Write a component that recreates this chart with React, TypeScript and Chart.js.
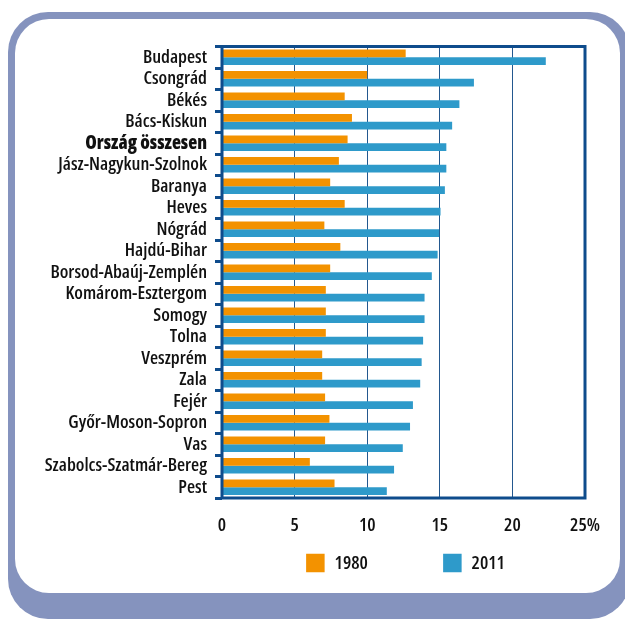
import React, { useEffect, useRef } from "react";
import { Chart, registerables } from "chart.js";

Chart.register(...registerables);

const categories = [
  "Budapest",
  "Csongrád",
  "Békés",
  "Bács-Kiskun",
  "Ország összesen",
  "Jász-Nagykun-Szolnok",
  "Baranya",
  "Heves",
  "Nógrád",
  "Hajdú-Bihar",
  "Borsod-Abaúj-Zemplén",
  "Komárom-Esztergom",
  "Somogy",
  "Tolna",
  "Veszprém",
  "Zala",
  "Fejér",
  "Győr-Moson-Sopron",
  "Vas",
  "Szabolcs-Szatmár-Bereg",
  "Pest",
];

const values1980 = [
  12.65, 10.0, 8.45, 8.95, 8.65, 8.05, 7.45, 8.45, 7.05, 8.15, 7.45, 7.15, 7.15,
  7.15, 6.9, 6.9, 7.1, 7.4, 7.1, 6.05, 7.75,
];

const values2011 = [
  22.3, 17.35, 16.35, 15.85, 15.45, 15.45, 15.35, 15.05, 14.95, 14.85, 14.45,
  13.95, 13.95, 13.85, 13.75, 13.65, 13.15, 12.95, 12.45, 11.85, 11.35,
];

const seriesNames = ["1980", "2011"];
const seriesColors = ["#F39200", "#2E9ACA"];
const xTickValues = [0, 5, 10, 15, 20, 25];
const xTickLabels = ["0", "5", "10", "15", "20", "25%"];
const boldCategory = "Ország összesen";

const FONT = '"Open Sans", "Roboto", sans-serif';
const FONT_SIZE = 18.6;
const FRAME = "#0E4C8C";
const TEXT = "#111111";

const framePlugin = {
  id: "frameBox",
  afterDatasetsDraw(chart: any) {
    const { ctx, chartArea } = chart;
    const { left, top, right, bottom } = chartArea;
    ctx.save();
    ctx.strokeStyle = FRAME;
    ctx.lineWidth = 3;
    ctx.strokeRect(left, top, right - left, bottom - top);
    ctx.restore();
  },
};

const legendPlugin = {
  id: "spacedLegend",
  afterDraw(chart: any) {
    const { ctx, chartArea } = chart;
    const datasets = chart.data.datasets;
    const box = 18.5;
    const gap = 10;
    const step = 137;
    ctx.save();
    ctx.font = `normal condensed 550 ${FONT_SIZE}px ${FONT}`;
    ctx.textBaseline = "middle";
    ctx.textAlign = "left";
    const lastW =
      box + gap + ctx.measureText(datasets[datasets.length - 1].label).width;
    const total = step * (datasets.length - 1) + lastW;
    const cx = (chartArea.left + chartArea.right) / 2 + 2;
    const cy = chartArea.bottom + 65;
    let x = cx - total / 2;
    datasets.forEach((ds: any) => {
      ctx.fillStyle = ds.backgroundColor;
      ctx.fillRect(x, cy - box / 2, box, box);
      ctx.fillStyle = TEXT;
      ctx.fillText(ds.label, x + box + gap, cy + 1);
      x += step;
    });
    ctx.restore();
  },
};

export default function App() {
  const canvasRef = useRef<HTMLCanvasElement | null>(null);

  useEffect(() => {
    if (!canvasRef.current) return;
    const chart = new Chart(canvasRef.current, {
      type: "bar",
      data: {
        labels: categories,
        datasets: [
          {
            label: seriesNames[0],
            data: values1980,
            backgroundColor: seriesColors[0],
            borderWidth: 0,
          },
          {
            label: seriesNames[1],
            data: values2011,
            backgroundColor: seriesColors[1],
            borderWidth: 0,
          },
        ],
      },
      options: {
        indexAxis: "y",
        animation: false,
        responsive: true,
        maintainAspectRatio: false,
        datasets: {
          bar: {
            categoryPercentage: 0.71,
            barPercentage: 1.0,
          },
        },
        layout: {
          padding: { left: 0, top: 46.5, right: 40, bottom: 0 },
        },
        plugins: {
          legend: { display: false },
          tooltip: { enabled: false },
        },
        scales: {
          x: {
            type: "linear",
            min: 0,
            max: 25,
            afterBuildTicks: (scale: any) => {
              scale.ticks = xTickValues.map((v) => ({ value: v }));
            },
            afterFit: (scale: any) => {
              scale.height = 121;
            },
            ticks: {
              padding: 17,
              color: TEXT,
              autoSkip: false,
              maxRotation: 0,
              font: { family: FONT, size: FONT_SIZE, weight: "condensed 550" },
              callback: (value: any) => {
                const i = xTickValues.indexOf(Number(value));
                return i >= 0 ? xTickLabels[i] : "";
              },
            },
            grid: {
              color: "#23588F",
              lineWidth: 1,
              drawTicks: false,
            },
            border: { display: false },
          },
          y: {
            type: "category",
            afterFit: (scale: any) => {
              scale.width = 222;
            },
            ticks: {
              padding: 8,
              color: TEXT,
              autoSkip: false,
              font: (c: any) => ({
                family: FONT,
                size: FONT_SIZE,
                weight:
                  categories[c.index] === boldCategory
                    ? "condensed 800"
                    : "condensed 550",
              }),
            },
            grid: {
              offset: true,
              drawOnChartArea: false,
              drawTicks: true,
              tickLength: 7,
              color: FRAME,
              lineWidth: 3,
            },
            border: { display: false },
          },
        },
      },
      plugins: [framePlugin, legendPlugin],
    });
    return () => chart.destroy();
  }, []);

  return (
    <div
      style={{
        position: "fixed",
        left: 0,
        top: 0,
        width: 625,
        height: 619,
        overflow: "hidden",
        background: "#ffffff",
      }}
    >
      <div
        style={{
          position: "absolute",
          left: 8,
          top: 12,
          width: 622,
          height: 607,
          borderRadius: 40,
          background: "#8593BE",
        }}
      />
      <div
        style={{
          position: "absolute",
          left: 15,
          top: 19,
          width: 605,
          height: 574,
          borderRadius: 34,
          background: "#ffffff",
        }}
      />
      <div
        style={{
          position: "absolute",
          left: 0,
          top: 0,
          width: 625,
          height: 619,
        }}
      >
        <canvas ref={canvasRef} />
      </div>
    </div>
  );
}
